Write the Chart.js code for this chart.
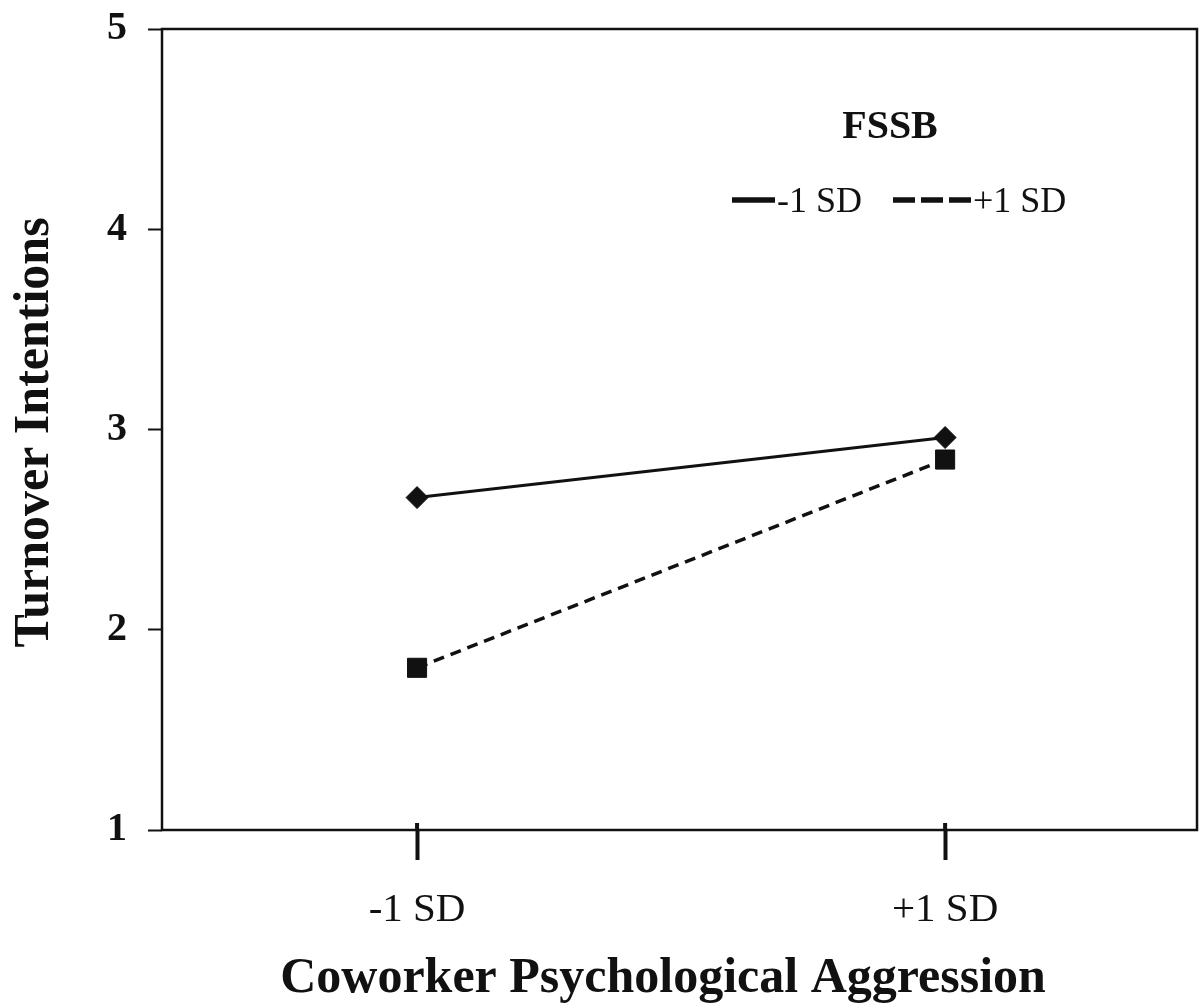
<!DOCTYPE html>
<html>
<head>
<meta charset="utf-8">
<style>
  html, body { margin: 0; padding: 0; background: #fff; overflow: hidden; }
  canvas { display: block; }
</style>
<script src="https://cdn.jsdelivr.net/npm/chart.js@4.4.1/dist/chart.umd.min.js"></script>
</head>
<body>
<canvas id="chart" width="1199" height="1008"></canvas>
<script>
// data
const xLabels = ["-1 SD", "+1 SD"];
const xPositions = [1, 2];
const seriesNames = ["-1 SD", "+1 SD"];
const lowFSSB = [2.66, 2.96];   // solid, diamonds
const highFSSB = [1.81, 2.85];  // dashed, squares
const yTicks = [1, 2, 3, 4, 5];
const legendTitle = "FSSB";
const xTitle = "Coworker Psychological Aggression";
const yTitle = "Turnover Intentions";

const ink = "#111";
const serif = "'Liberation Serif', 'Times New Roman', serif";

const toPoints = vals => vals.map((v, i) => ({ x: xPositions[i], y: v }));

// frame, axis titles and the in-plot legend
const decorations = {
  id: "decorations",
  beforeDatasetsDraw(chart) {
    const { ctx, chartArea: a } = chart;
    ctx.save();
    ctx.strokeStyle = ink;
    ctx.lineWidth = 2.5;
    ctx.strokeRect(a.left, a.top, a.right - a.left, a.bottom - a.top);
    // x ticks poke a little above the axis
    const xs = chart.scales.x;
    ctx.lineWidth = 4;
    xs.ticks.forEach(t => {
      const px = xs.getPixelForValue(t.value);
      ctx.beginPath();
      ctx.moveTo(px, a.bottom - 7);
      ctx.lineTo(px, a.bottom);
      ctx.stroke();
    });
    ctx.restore();
  },
  afterDraw(chart) {
    const { ctx, chartArea: a } = chart;
    ctx.save();
    ctx.fillStyle = ink;
    ctx.strokeStyle = ink;

    // x title
    ctx.font = "bold 50px " + serif;
    ctx.textAlign = "center";
    ctx.textBaseline = "alphabetic";
    ctx.fillText(xTitle, 663, 992);

    // y title
    ctx.save();
    ctx.translate(48, (a.top + a.bottom) / 2 + 3);
    ctx.rotate(-Math.PI / 2);
    ctx.fillText(yTitle, 0, 0);
    ctx.restore();

    // legend
    ctx.font = "bold 40px " + serif;
    ctx.fillText(legendTitle, 890, 138);

    ctx.font = "36px " + serif;
    ctx.textAlign = "left";
    const items = [
      { x0: 732, len: 43, dash: [] },
      { x0: 893, len: 78, dash: [22, 6] }
    ];
    chart.data.datasets.forEach((ds, i) => {
      const it = items[i];
      ctx.beginPath();
      ctx.lineWidth = 5.5;
      ctx.setLineDash(it.dash);
      ctx.moveTo(it.x0, 200);
      ctx.lineTo(it.x0 + it.len, 200);
      ctx.stroke();
      ctx.setLineDash([]);
      ctx.fillText(ds.label, it.x0 + it.len + 2, 212);
    });
    ctx.restore();
  }
};

new Chart(document.getElementById("chart"), {
  type: "line",
  data: {
    datasets: [
      {
        label: seriesNames[0],
        data: toPoints(lowFSSB),
        borderColor: ink,
        backgroundColor: ink,
        borderWidth: 3,
        pointStyle: "rectRot",
        pointRadius: 11,
        pointBorderWidth: 1
      },
      {
        label: seriesNames[1],
        data: toPoints(highFSSB),
        borderColor: ink,
        backgroundColor: ink,
        borderWidth: 3.5,
        borderDash: [11, 7],
        pointStyle: "rect",
        pointRadius: 13.5,
        pointBorderWidth: 1
      }
    ]
  },
  options: {
    responsive: false,
    animation: false,
    layout: { autoPadding: false, padding: { left: 0, top: 29, right: 2, bottom: 0 } },
    plugins: {
      legend: { display: false },
      tooltip: { enabled: false }
    },
    scales: {
      x: {
        type: "linear",
        min: 0.517,
        max: 2.477,
        afterBuildTicks: scale => {
          scale.ticks = xPositions.map(v => ({ value: v }));
        },
        afterFit: scale => {
          scale.height = 178;
          scale.paddingLeft = 0;
          scale.paddingRight = 0;
        },
        border: { display: false },
        grid: {
          drawOnChartArea: false,
          drawTicks: true,
          tickLength: 30,
          tickWidth: 4,
          tickColor: ink
        },
        ticks: {
          padding: 26,
          color: ink,
          font: { family: serif, size: 41 },
          callback: value => xLabels[xPositions.indexOf(value)] ?? ""
        }
      },
      y: {
        min: 1,
        max: 5,
        afterBuildTicks: scale => {
          scale.ticks = yTicks.map(v => ({ value: v }));
        },
        afterFit: scale => {
          scale.width = 162;
          scale.paddingTop = 0;
          scale.paddingBottom = 0;
        },
        border: { display: false },
        grid: {
          drawOnChartArea: false,
          drawTicks: true,
          tickLength: 14,
          tickWidth: 2,
          tickColor: ink
        },
        ticks: {
          padding: 21,
          color: ink,
          font: { family: serif, size: 40, weight: "bold" }
        }
      }
    }
  },
  plugins: [decorations]
});
</script>
</body>
</html>
